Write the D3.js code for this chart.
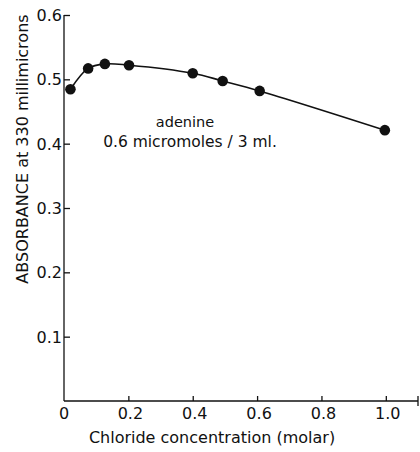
<!DOCTYPE html>
<html><head><meta charset="utf-8">
<script src="https://cdn.jsdelivr.net/npm/d3@7"></script>
<style>body{margin:0;background:#fff}svg{display:block}text{font-family:"DejaVu Sans",sans-serif;fill:#111}</style>
</head><body><svg id="c" width="420" height="452"></svg>
<script>
const chlorideMolar = [0.02, 0.075, 0.127, 0.202, 0.4, 0.493, 0.608, 0.997];
const absorbance = [0.4845, 0.517, 0.524, 0.522, 0.5095, 0.4975, 0.482, 0.421];
const xTicks = [0, 0.2, 0.4, 0.6, 0.8, 1.0];
const xTickLabels = ["0", "0.2", "0.4", "0.6", "0.8", "1.0"];
const yTicks = [0.1, 0.2, 0.3, 0.4, 0.5, 0.6];
const yTickLabels = ["0.1", "0.2", "0.3", "0.4", "0.5", "0.6"];

const svg = d3.select("#c");
const x = d3.scaleLinear().domain([0, 1.1]).range([64, 418]);
const y = d3.scaleLinear().domain([0, 0.6]).range([401, 15]);
const ink = "#111";

// axes lines
svg.append("line").attr("x1", x(0)).attr("x2", x(0)).attr("y1", y(0.6)).attr("y2", y(0)).attr("stroke", ink).attr("stroke-width", 1.3);
svg.append("line").attr("x1", x(0)).attr("x2", x(1.1)).attr("y1", y(0)).attr("y2", y(0)).attr("stroke", ink).attr("stroke-width", 1.3);
svg.append("line").attr("x1", x(1.1)).attr("x2", x(1.1)).attr("y1", y(0) - 5).attr("y2", y(0) + 5).attr("stroke", ink).attr("stroke-width", 1.3);

// y ticks (inward)
const yAxis = d3.axisRight(y).tickValues(yTicks).tickSize(6).tickFormat("");
const gy = svg.append("g").attr("transform", `translate(${x(0)},0)`).call(yAxis);
gy.select(".domain").remove();
gy.selectAll("line").attr("stroke", ink).attr("stroke-width", 1.3);
svg.selectAll(".ylab").data(yTicks).enter().append("text")
  .attr("x", x(0) - 2).attr("y", d => y(d) + 6).attr("text-anchor", "end")
  .attr("font-size", 16).text((d, i) => yTickLabels[i]);

// x ticks (inward)
const xAxis = d3.axisTop(x).tickValues(xTicks.filter(d => d > 0)).tickSize(5).tickFormat("");
const gx = svg.append("g").attr("transform", `translate(0,${y(0)})`).call(xAxis);
gx.select(".domain").remove();
gx.selectAll("line").attr("stroke", ink).attr("stroke-width", 1.3);
svg.selectAll(".xlab").data(xTicks).enter().append("text")
  .attr("x", d => x(d) + (d > 0 ? 2 : 0)).attr("y", y(0) + 18).attr("text-anchor", "middle")
  .attr("font-size", 16).text((d, i) => xTickLabels[i]);

// curve
const line = d3.line().x((d, i) => x(chlorideMolar[i])).y(d => y(d)).curve(d3.curveCatmullRom.alpha(0.5));
svg.append("path").attr("d", line(absorbance)).attr("fill", "none").attr("stroke", ink).attr("stroke-width", 1.6);

// points
svg.selectAll(".pt").data(absorbance).enter().append("circle")
  .attr("cx", (d, i) => x(chlorideMolar[i])).attr("cy", d => y(d)).attr("r", 5.3).attr("fill", ink);

// annotation
svg.append("text").attr("x", 185).attr("y", 127).attr("text-anchor", "middle").attr("font-size", 14.5).text("adenine");
svg.append("text").attr("x", 190).attr("y", 147).attr("text-anchor", "middle").attr("font-size", 15.5).text("0.6 micromoles / 3 ml.");

// axis titles
svg.append("text").attr("x", 212).attr("y", 443).attr("text-anchor", "middle").attr("font-size", 16).text("Chloride concentration (molar)");
svg.append("text").attr("transform", "translate(28,149) rotate(-90)").attr("text-anchor", "middle").attr("font-size", 16).text("ABSORBANCE at 330 millimicrons");
</script></body></html>
